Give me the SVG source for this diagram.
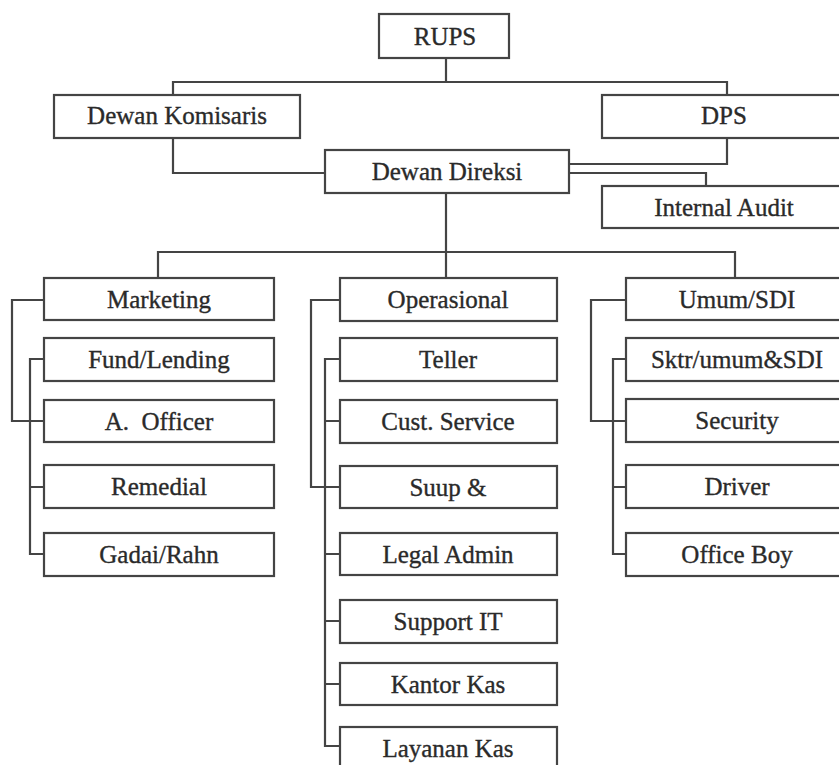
<svg xmlns="http://www.w3.org/2000/svg" width="839" height="765" viewBox="0 0 839 765">
<style>
rect{fill:#fff;stroke:#444;stroke-width:2.2}
text{font-family:"Liberation Serif","Times New Roman",serif;font-size:25px;fill:#2a2a2a;stroke:#2a2a2a;stroke-width:0.35;text-anchor:middle}
#connectors path{fill:none;stroke:#444;stroke-width:2.2}
</style>
<rect x="0" y="0" width="839" height="765" style="stroke:none;fill:#fff"/>
<g id="connectors">
<path d="M446 58V82M173 95V82H727V95"/>
<path d="M173 138V173H325"/>
<path d="M727 138V164H569"/>
<path d="M569 173H706V186"/>
<path d="M446 193V252M158 278V252H735V278M446 252V278"/>
<path d="M44 300H12V421H44"/>
<path d="M44 359H30V554H44M30 487H44"/>
<path d="M340 300H311V487H340"/>
<path d="M340 359H325V746H340M325 421H340M325 554H340M325 621H340M325 684H340"/>
<path d="M626 300H591V421H626"/>
<path d="M626 359H613V554H626M613 487H626"/>
</g>
<g id="rups"><rect x="379" y="14" width="130" height="44"/><text x="445" y="45">RUPS</text></g>
<g id="dewan-komisaris"><rect x="54" y="95" width="246" height="43"/><text x="177" y="124">Dewan Komisaris</text></g>
<g id="dps"><rect x="602" y="95" width="246" height="43"/><text x="724" y="124">DPS</text></g>
<g id="dewan-direksi"><rect x="325" y="150" width="244" height="43"/><text x="447" y="180">Dewan Direksi</text></g>
<g id="internal-audit"><rect x="602" y="186" width="246" height="42"/><text x="724" y="216">Internal Audit</text></g>
<g id="marketing"><rect x="44" y="278" width="230" height="42"/><text x="159" y="308">Marketing</text></g>
<g id="fund-lending"><rect x="44" y="338" width="230" height="43"/><text x="159" y="368">Fund/Lending</text></g>
<g id="a-officer"><rect x="44" y="400" width="230" height="42"/><text x="159" y="430" xml:space="preserve">A.  Officer</text></g>
<g id="remedial"><rect x="44" y="465" width="230" height="43"/><text x="159" y="495">Remedial</text></g>
<g id="gadai-rahn"><rect x="44" y="533" width="230" height="43"/><text x="159" y="563">Gadai/Rahn</text></g>
<g id="operasional"><rect x="340" y="278" width="217" height="43"/><text x="448" y="308">Operasional</text></g>
<g id="teller"><rect x="340" y="338" width="217" height="43"/><text x="448" y="368">Teller</text></g>
<g id="cust-service"><rect x="340" y="400" width="217" height="43"/><text x="448" y="430">Cust. Service</text></g>
<g id="suup"><rect x="340" y="466" width="217" height="42"/><text x="448" y="496">Suup &amp;</text></g>
<g id="legal-admin"><rect x="340" y="533" width="217" height="42"/><text x="448" y="563">Legal Admin</text></g>
<g id="support-it"><rect x="340" y="600" width="217" height="43"/><text x="448" y="630">Support IT</text></g>
<g id="kantor-kas"><rect x="340" y="663" width="217" height="42"/><text x="448" y="693">Kantor Kas</text></g>
<g id="layanan-kas"><rect x="340" y="727" width="217" height="50"/><text x="448" y="757">Layanan Kas</text></g>
<g id="umum-sdi"><rect x="626" y="278" width="222" height="42"/><text x="737" y="308">Umum/SDI</text></g>
<g id="sktr"><rect x="626" y="338" width="222" height="43"/><text x="737" y="368">Sktr/umum&amp;SDI</text></g>
<g id="security"><rect x="626" y="399" width="222" height="43"/><text x="737" y="429">Security</text></g>
<g id="driver"><rect x="626" y="465" width="222" height="43"/><text x="737" y="495">Driver</text></g>
<g id="office-boy"><rect x="626" y="533" width="222" height="43"/><text x="737" y="563">Office Boy</text></g>
</svg>
